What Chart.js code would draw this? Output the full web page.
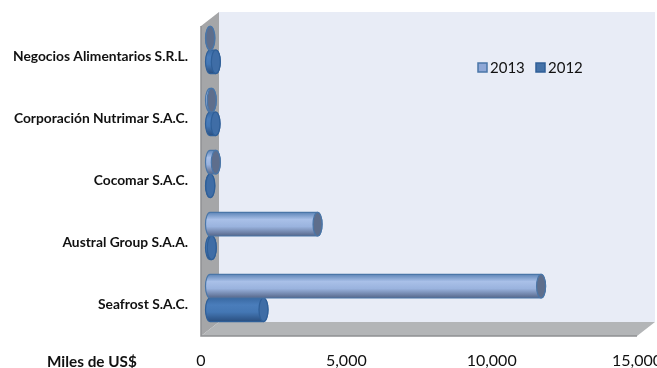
<!DOCTYPE html>
<html>
<head>
<meta charset="utf-8">
<style>
html, body { margin: 0; padding: 0; background: #fff; overflow: hidden; }
#chart { display: block; }
</style>
<script src="https://cdn.jsdelivr.net/npm/chart.js@4"></script>
</head>
<body>
<canvas id="chart" width="657" height="368"></canvas>
<script>
const categories = ['Negocios Alimentarios S.R.L.', 'Corporación Nutrimar S.A.C.', 'Cocomar S.A.C.', 'Austral Group S.A.A.', 'Seafrost S.A.C.'];
const seriesLabels = ['2013', '2012'];
const values2013 = [10, 60, 200, 3700, 11390];
const values2012 = [200, 190, 10, 60, 1840];
const tickLabels = ['0', '5,000', '10,000', '15,000'];

const FONT = 'Lato, "Open Sans", sans-serif';
const styles = [
    { stops: ['#5f86b8', '#a9c0e8', '#9ab3de', '#56678a'], edge: '#4a76a8', cap: '#5e6e8c', legend: '#8ea7d6' },
    { stops: ['#3a6aa3', '#4a7dbb', '#4477b4', '#2a4f80'], edge: '#2f5f98', cap: '#3f6da6', legend: '#4472a8' }
];

// walls, floor, axis caption and legend
const box3d = {
    id: 'box3d',
    beforeDatasetsDraw(chart) {
        const { ctx, chartArea: a } = chart;
        const dx = 18, dy = 14;
        const poly = (pts, color) => {
            ctx.beginPath();
            pts.forEach((p, i) => i ? ctx.lineTo(p[0], p[1]) : ctx.moveTo(p[0], p[1]));
            ctx.closePath();
            ctx.fillStyle = color;
            ctx.fill();
        };
        poly([[a.left + dx, a.top - dy], [a.right + dx, a.top - dy], [a.right + dx, a.bottom - dy], [a.left + dx, a.bottom - dy]], '#e8ecf6');
        poly([[a.left, a.top], [a.left + dx, a.top - dy], [a.left + dx, a.bottom - dy], [a.left, a.bottom]], '#a5a6a8');
        poly([[a.left, a.bottom], [a.left + dx, a.bottom - dy], [a.right + dx, a.bottom - dy], [a.right, a.bottom]], '#b3b5b7');
        ctx.strokeStyle = '#8e9092';
        ctx.lineWidth = 1.5;
        ctx.beginPath();
        ctx.moveTo(a.left, a.top);
        ctx.lineTo(a.left, a.bottom);
        ctx.lineTo(a.right, a.bottom);
        ctx.stroke();
    },
    afterDraw(chart) {
        const { ctx } = chart;
        ctx.save();
        ctx.fillStyle = '#111';
        ctx.textBaseline = 'middle';
        ctx.font = 'bold 15.3px ' + FONT;
        ctx.fillText('Miles de US$', 47, 362);
        ctx.font = '15px ' + FONT;
        let x = 478;
        seriesLabels.forEach((label, i) => {
            ctx.fillStyle = styles[i].legend;
            ctx.strokeStyle = styles[i].edge;
            ctx.lineWidth = 1.5;
            ctx.fillRect(x, 63, 9, 9);
            ctx.strokeRect(x, 63, 9, 9);
            ctx.fillStyle = '#111';
            ctx.fillText(label, x + 12, 68);
            x += 58;
        });
        ctx.restore();
    }
};

// draws each bar element as a lying cylinder, using the position the bar scale gave it
const cylinders = {
    id: 'cylinders',
    beforeDatasetDraw(chart, args) {
        const { ctx } = chart;
        const st = styles[args.index];
        const rx = 4.5;
        args.meta.data.forEach(bar => {
            const p = bar.getProps(['x', 'y', 'base', 'height']);
            const top = p.y - p.height / 2;
            const ry = p.height / 2;
            const x0 = p.base + 9;
            const x1 = p.x + 9;
            const yy = p.y - 7;
            const t = top - 7;
            const grad = ctx.createLinearGradient(0, t, 0, t + p.height);
            grad.addColorStop(0, st.stops[0]);
            grad.addColorStop(0.3, st.stops[1]);
            grad.addColorStop(0.6, st.stops[2]);
            grad.addColorStop(1, st.stops[3]);
            ctx.save();
            ctx.lineWidth = 1.2;
            ctx.strokeStyle = st.edge;
            ctx.fillStyle = grad;
            ctx.beginPath();
            ctx.ellipse(x0, yy, rx, ry, 0, Math.PI / 2, Math.PI * 1.5);
            ctx.lineTo(x1, t);
            ctx.ellipse(x1, yy, rx, ry, 0, -Math.PI / 2, Math.PI / 2);
            ctx.closePath();
            ctx.fill();
            ctx.stroke();
            ctx.fillStyle = st.cap;
            ctx.beginPath();
            ctx.ellipse(x1, yy, rx, ry, 0, 0, Math.PI * 2);
            ctx.fill();
            ctx.stroke();
            ctx.restore();
        });
        return false;
    }
};

new Chart(document.getElementById('chart'), {
    type: 'bar',
    data: {
        labels: categories,
        datasets: [
            { label: seriesLabels[0], data: values2013 },
            { label: seriesLabels[1], data: values2012 }
        ]
    },
    plugins: [box3d, cylinders],
    options: {
        indexAxis: 'y',
        responsive: false,
        animation: false,
        categoryPercentage: 0.76,
        barPercentage: 1,
        layout: { padding: { top: 26, right: 20, bottom: 0, left: 0 } },
        plugins: {
            legend: { display: false },
            tooltip: { enabled: false }
        },
        scales: {
            x: {
                min: 0,
                max: 15000,
                grid: { display: false },
                border: { display: false },
                ticks: {
                    stepSize: 5000,
                    maxRotation: 0,
                    padding: 7,
                    color: '#111',
                    font: { family: FONT, size: 16 },
                    callback: (v, i) => tickLabels[i]
                },
                afterFit(scale) {
                    scale.height = 32;
                    scale.paddingLeft = 0;
                    scale.paddingRight = 0;
                }
            },
            y: {
                grid: { display: false },
                border: { display: false },
                ticks: {
                    padding: 5,
                    color: '#111',
                    font: { family: FONT, size: 13.8, weight: 'bold' }
                },
                afterFit(scale) {
                    scale.width = 201;
                    scale.paddingTop = 0;
                    scale.paddingBottom = 0;
                }
            }
        }
    }
});
</script>
</body>
</html>
